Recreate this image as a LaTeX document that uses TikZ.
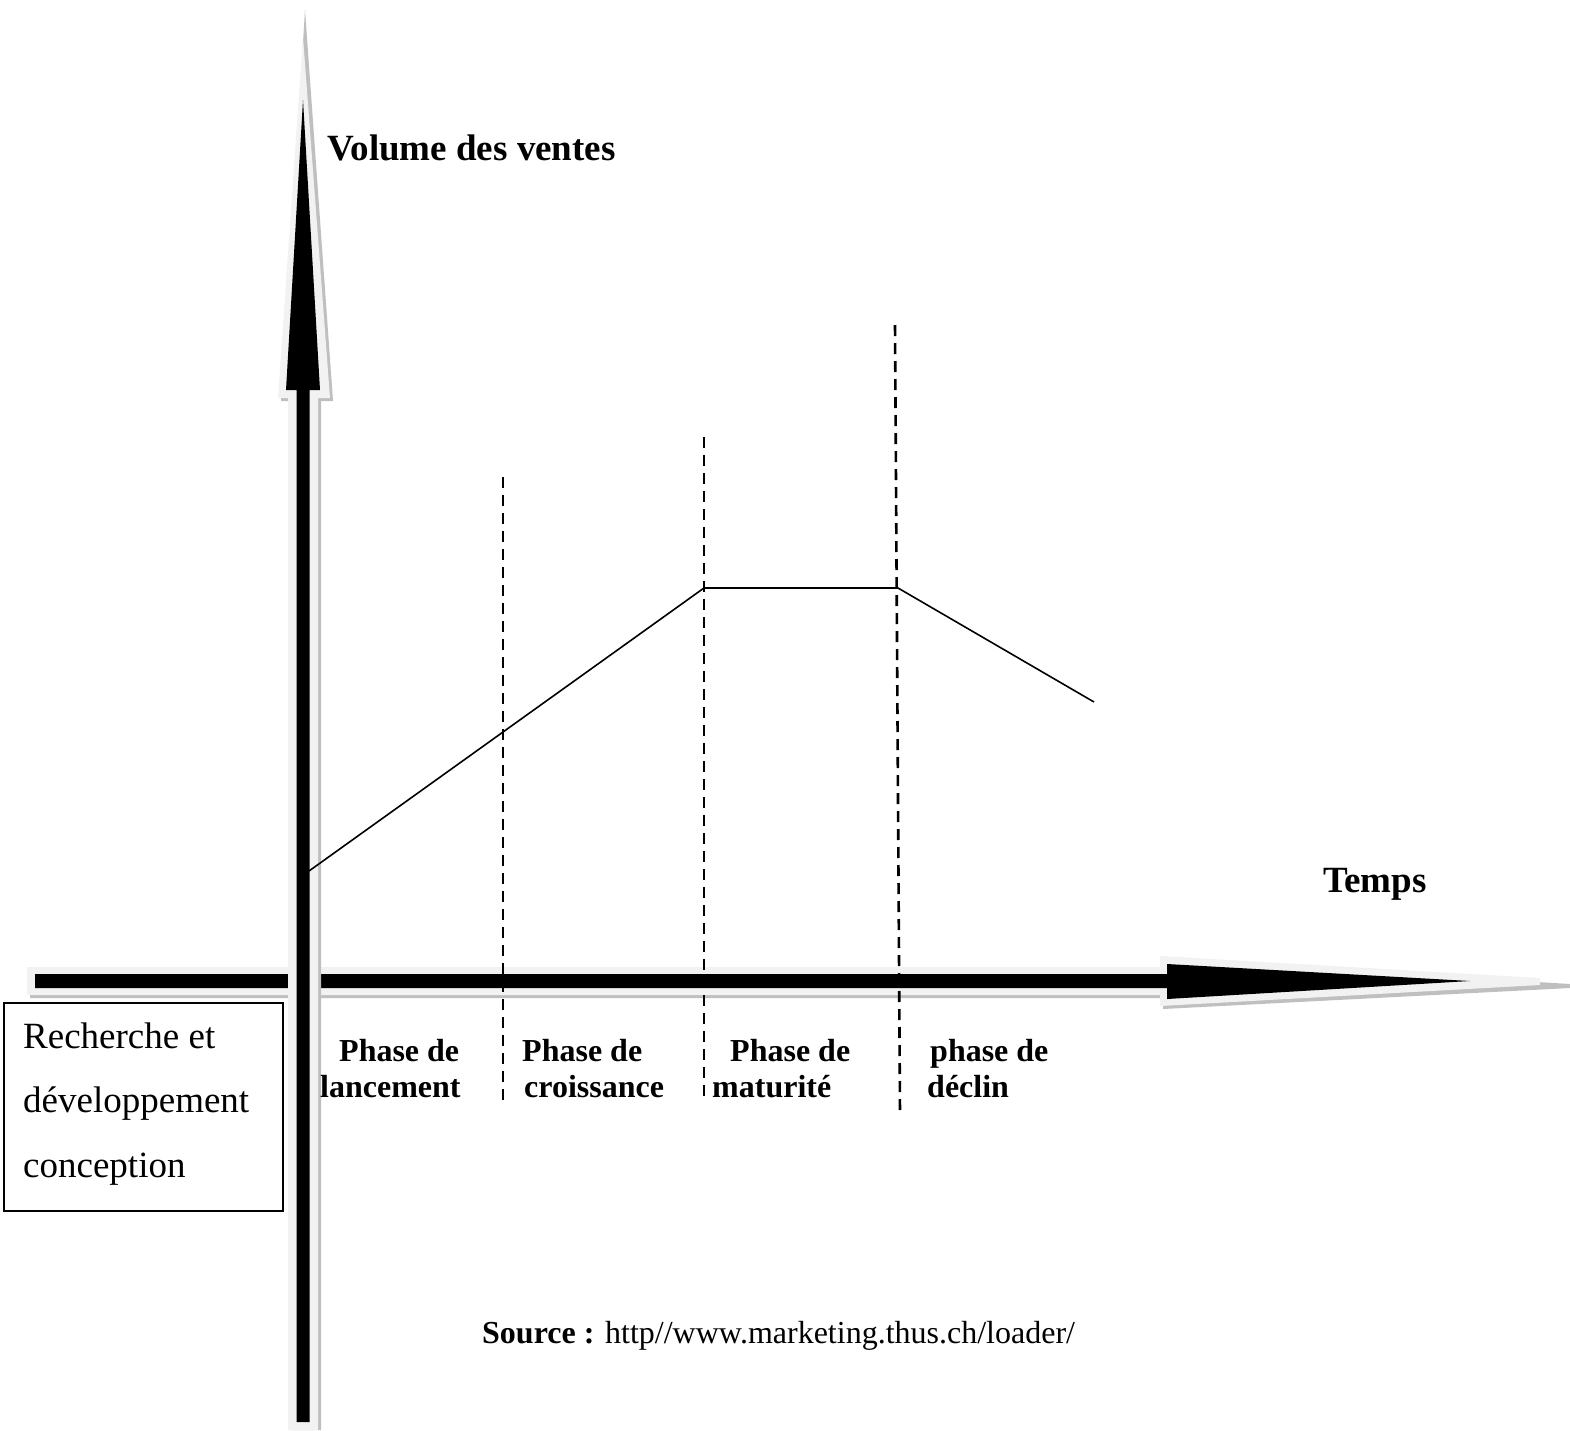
\documentclass[tikz,border=0pt]{standalone}
\usepackage{fontspec}
\setmainfont{Liberation Serif}
\definecolor{arrlight}{HTML}{F2F2F2}
\definecolor{arrshadow}{HTML}{BFBFBF}
\begin{document}
\begin{tikzpicture}[x=1pt,y=-1pt,
  lbl/.style={anchor=base west,inner sep=0pt,font=\fontsize{37}{37}\selectfont\bfseries},
  phaselbl/.style={anchor=base west,inner sep=0pt,font=\fontsize{32}{32}\selectfont\bfseries},
  boxtxt/.style={anchor=base west,inner sep=0pt,font=\fontsize{37}{37}\selectfont},
  phaseline/.style={line width=2.6pt,dash pattern=on 11pt off 7pt},
  curveline/.style={line width=1.6pt,line join=miter},
  shadowfill/.style={fill=arrshadow,draw=none},
  lightfill/.style={fill=arrlight,draw=none},
  blackfill/.style={fill=black,draw=none}]
\useasboundingbox (0,0) rectangle (1570,1430);
\fill[white] (0,0) rectangle (1570,1430);

% horizontal arrow (Temps)
\path[shadowfill] (30,970)--(1163,970)--(1163,959)--(1570,984)--(1570,988)--(1163,1009)--(1163,998)--(30,998)--cycle;
\path[lightfill] (27,967)--(1160,967)--(1160,956)--(1540,978)--(1540,985)--(1160,1006)--(1160,995)--(27,995)--cycle;
\path[blackfill] (35,974)--(1167,974)--(1167,964)--(1470,981)--(1167,999)--(1167,988)--(35,988)--cycle;

% phase separators
\coordinate (d1t) at (503,477); \coordinate (d1b) at (503,1100);
\coordinate (d2t) at (704,437); \coordinate (d2b) at (704,1100);
\coordinate (d3t) at (895,325); \coordinate (d3b) at (900,1115);
\draw[phaseline] (d1t) -- (d1b);
\draw[phaseline] (d2t) -- (d2b);
\draw[phaseline] (d3t) -- (d3b);

% vertical arrow (Volume des ventes)
\path[shadowfill] (291,1430)--(291,401)--(281,401)--(305,10)--(333,401)--(321,401)--(321,1430)--cycle;
\path[lightfill] (288,1430)--(288,398)--(278,398)--(303,37)--(330,398)--(318,398)--(318,1430)--cycle;
\path[blackfill] (296.5,1422)--(296.5,390)--(286,390)--(303,100)--(320,390)--(309.5,390)--(309.5,1422)--cycle;

% sales curve
\coordinate (c0) at (309,871);
\coordinate (c1) at (704,588);
\coordinate (c2) at (898,588);
\coordinate (c3) at (1094,702);
\draw[curveline] (c0) -- (c1) -- (c2) -- (c3);

% labels
\node[lbl] (ylab) at (327,160) {Volume des ventes};
\node[lbl] (xlab) at (1323,892) {Temps};

\node[draw,line width=1.5pt,minimum width=279pt,minimum height=208pt,anchor=north west,inner sep=0pt] (rd) at (3,1002) {};
\node[boxtxt] (rd1) at (23,1048) {Recherche et};
\node[boxtxt] (rd2) at (23,1112) {développement};
\node[boxtxt] (rd3) at (23,1177) {conception};

\node[phaselbl] (p1a) at (339,1061) {Phase de};
\node[phaselbl] (p1b) at (320,1097) {lancement};
\node[phaselbl] (p2a) at (522,1061) {Phase de};
\node[phaselbl] (p2b) at (524,1097) {croissance};
\node[phaselbl] (p3a) at (730,1061) {Phase de};
\node[phaselbl] (p3b) at (712,1097) {maturité};
\node[phaselbl] (p4a) at (930,1061) {phase de};
\node[phaselbl] (p4b) at (927,1097) {déclin};

\node[anchor=base west,inner sep=0pt,font=\fontsize{32}{32}\selectfont] (src) at (482,1343) {\textbf{Source :} http//www.marketing.thus.ch/loader/};
\end{tikzpicture}
\end{document}
